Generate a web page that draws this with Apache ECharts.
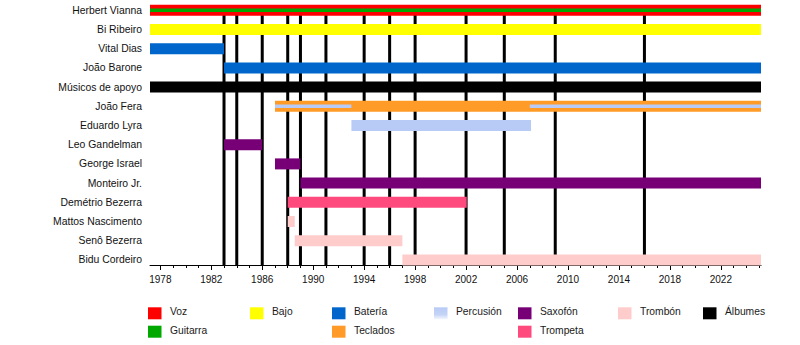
<!DOCTYPE html>
<html>
<head>
<meta charset="utf-8">
<script src="https://cdn.jsdelivr.net/npm/echarts@6/dist/echarts.min.js"></script>
<style>
html,body{margin:0;padding:0;background:#fff;}
#chart{width:800px;height:345px;}
</style>
</head>
<body>
<div id="chart"></div>
<script>
// ---- data ----
const members = ['Herbert Vianna','Bi Ribeiro','Vital Dias','João Barone','Músicos de apoyo','João Fera','Eduardo Lyra','Leo Gandelman','George Israel','Monteiro Jr.','Demétrio Bezerra','Mattos Nascimento','Senô Bezerra','Bidu Cordeiro'];
const timelineStart = 1977.19;
const timelineEnd = 2025.15;
// [member, role, from, to]
const periods = [
  ['Herbert Vianna','Voz',1977.19,2025.15],
  ['Bi Ribeiro','Bajo',1977.19,2025.15],
  ['Vital Dias','Batería',1977.19,1983],
  ['João Barone','Batería',1983,2025.15],
  ['Músicos de apoyo','Apoyo',1977.19,2025.15],
  ['João Fera','Teclados',1987,2025.15],
  ['Eduardo Lyra','Percusión',1993,2007.1],
  ['Leo Gandelman','Saxofón',1983,1986],
  ['George Israel','Saxofón',1987,1989],
  ['Monteiro Jr.','Saxofón',1989,2025.15],
  ['Demétrio Bezerra','Trompeta',1988,2002.05],
  ['Mattos Nascimento','Trombón',1988,1988.55],
  ['Senô Bezerra','Trombón',1988.55,1997],
  ['Bidu Cordeiro','Trombón',1997,2025.15]
];
// secondary roles drawn over a member's main bar
const overlayPeriods = [
  ['Herbert Vianna','Guitarra',1977.19,2025.15],
  ['João Fera','Percusión',1987,1993],
  ['João Fera','Percusión',2007,2025.15]
];
const albums = [1983,1984,1986,1988,1989,1991,1994,1996,1998,2002,2005,2009,2016];
const minorTickYears = [];
for (let y = 1978; y <= 2025; y++) minorTickYears.push(y);
const labelYears = [1978,1982,1986,1990,1994,1998,2002,2006,2010,2014,2018,2022];
const legendRoles = ['Voz','Guitarra','Bajo','Batería','Teclados','Percusión','Saxofón','Trompeta','Trombón','Álbumes'];

// ---- styles ----
const roleColors = {
  'Voz':'#FF0000','Guitarra':'#00A800','Bajo':'#FFFF00','Batería':'#0066CC',
  'Percusión':'#B8CBF6','Saxofón':'#770077','Trombón':'#FFCCCC','Álbumes':'#000000',
  'Teclados':'#FF9B26','Trompeta':'#FF4A7E','Apoyo':'#000000'
};
const legendLayout = {
  'Voz':[148,0],'Guitarra':[148,1],'Bajo':[250,0],'Batería':[332,0],'Teclados':[332,1],
  'Percusión':[434,0],'Saxofón':[518,0],'Trompeta':[518,1],'Trombón':[618,0],'Álbumes':[703,0]
};
const FONT = 'Liberation Sans, Arial, sans-serif';

const barData = periods.map(p => [p[2], p[3], members.indexOf(p[0]), p[1], 0])
  .concat(overlayPeriods.map(p => [p[2], p[3], members.indexOf(p[0]), p[1], 1]));

const legendGraphics = [];
legendRoles.forEach(r => {
  const [x, row] = legendLayout[r];
  const cy = 313.3 + row * 18.4;
  let fill = roleColors[r];
  if (r === 'Percusión') {
    fill = new echarts.graphic.LinearGradient(0,0,0,1,[{offset:0,color:'#B8CBF6'},{offset:0.6,color:'#C4D4F7'},{offset:1,color:'#F4F7FE'}]);
  }
  legendGraphics.push({type:'rect', left:x, top:cy-6, shape:{x:0,y:0,width:13.5,height:12}, style:{fill:fill}, silent:true});
  legendGraphics.push({type:'text', left:x+22, top:cy-6.5, style:{text:r, fontSize:10.3, fontFamily:FONT, fill:'#1a1a1a'}, silent:true});
});

const chart = echarts.init(document.getElementById('chart'), null, {renderer:'svg'});
chart.setOption({
  animation:false,
  textStyle:{fontFamily:FONT},
  grid:[
    {left:150, right:39, top:0, height:265},
    {left:150, right:39, top:0.7, height:268.8}
  ],
  xAxis:[
    {gridIndex:0, type:'value', position:'bottom', min:timelineStart, max:timelineEnd,
     axisLine:{show:true, lineStyle:{color:'#000', width:1}},
     axisTick:{show:true, customValues:minorTickYears, length:3, lineStyle:{color:'#000'}},
     axisLabel:{show:false}, splitLine:{show:false}},
    {gridIndex:0, type:'value', position:'bottom', min:timelineStart, max:timelineEnd,
     axisLine:{show:false},
     axisTick:{show:true, customValues:labelYears, length:5, lineStyle:{color:'#000'}},
     axisLabel:{show:true, customValues:labelYears, fontSize:10, color:'#111', margin:9, fontFamily:FONT,
                formatter:function(v){ return String(Math.round(v)); }},
     splitLine:{show:false}},
    {gridIndex:1, type:'value', min:timelineStart, max:timelineEnd, show:false}
  ],
  yAxis:[
    {gridIndex:0, type:'value', min:0, max:1, show:false},
    {gridIndex:1, type:'category', data:members, inverse:true,
     axisLine:{show:false}, axisTick:{show:false}, splitLine:{show:false},
     axisLabel:{fontSize:10.4, color:'#111', margin:8, fontFamily:FONT}}
  ],
  series:[
    {type:'custom', name:'Álbumes', xAxisIndex:0, yAxisIndex:0, z:1,
     data:albums.map(a => [a]),
     encode:{x:0},
     renderItem:function(params, api){
       const cs = params.coordSys;
       const x = api.coord([api.value(0), 0])[0];
       return {type:'line', shape:{x1:x, y1:cs.y+5, x2:x, y2:cs.y+cs.height}, style:{stroke:'#000', lineWidth:3}};
     }},
    {type:'custom', name:'Miembros', xAxisIndex:2, yAxisIndex:1, z:2,
     data:barData,
     encode:{x:[0,1], y:2},
     renderItem:function(params, api){
       const d = barData[params.dataIndex];
       const s = api.coord([d[0], d[2]]);
       const e = api.coord([d[1], d[2]]);
       const h = d[4] ? 3.5 : 11;
       return {type:'rect', shape:{x:s[0], y:s[1]-h/2, width:e[0]-s[0], height:h}, style:{fill:roleColors[d[3]]}};
     }}
  ],
  graphic:legendGraphics
});
</script>
</body>
</html>
